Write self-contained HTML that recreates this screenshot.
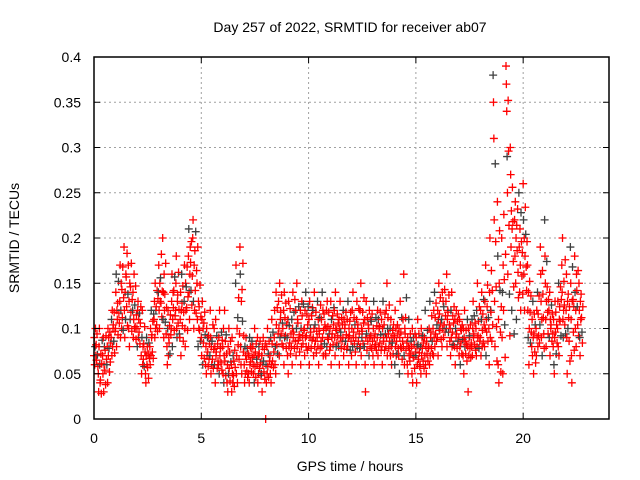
<!DOCTYPE html>
<html><head><meta charset="utf-8"><style>
body{margin:0;background:#fff}
svg{display:block;font-family:"Liberation Sans",sans-serif}
</style></head><body>
<svg id="chart" width="640" height="480">
<text x="350" y="32" text-anchor="middle" font-size="14">Day 257 of 2022, SRMTID for receiver ab07</text>
<g id="grid"></g>
<g id="pts"></g>
<rect x="94" y="57" width="515" height="362" fill="none" stroke="#000" stroke-width="1.5"/>
<g id="ticks"></g>
<text x="350" y="471" text-anchor="middle" font-size="14">GPS time / hours</text>
<text transform="translate(19,238) rotate(-90)" text-anchor="middle" font-size="14">SRMTID / TECUs</text>
</svg>
<script>
const xTicks=[0,5,10,15,20];
const yTicks=[0,0.05,0.1,0.15,0.2,0.25,0.3,0.35,0.4];
const yTickLabels=["0","0.05","0.1","0.15","0.2","0.25","0.3","0.35","0.4"];
const hours=[0.0,0.2,0.4,0.6,0.8,1.0,1.2,1.4,1.6,1.8,2.0,2.2,2.4,2.6,2.8,3.0,3.2,3.4,3.6,3.8,4.0,4.2,4.4,4.6,4.8,5.0,5.2,5.4,5.6,5.8,6.0,6.2,6.4,6.6,6.8,7.0,7.2,7.4,7.6,7.8,8.0,8.2,8.4,8.6,8.8,9.0,9.2,9.4,9.6,9.8,10.0,10.2,10.4,10.6,10.8,11.0,11.2,11.4,11.6,11.8,12.0,12.2,12.4,12.6,12.8,13.0,13.2,13.4,13.6,13.8,14.0,14.2,14.4,14.6,14.8,15.0,15.2,15.4,15.6,15.8,16.0,16.2,16.4,16.6,16.8,17.0,17.2,17.4,17.6,17.8,18.0,18.2,18.4,18.6,18.8,19.0,19.2,19.4,19.6,19.8,20.0,20.2,20.4,20.6,20.8,21.0,21.2,21.4,21.6,21.8,22.0,22.2,22.4,22.6];
const srmtid=[
[.07,.09,.06,.08,.10,.07],[.05,.03,.08,.10,.06,.04],[.07,.05,.09,.03,.06,.08],[.06,.08,.04,.10,.07,.09],[.09,.11,.07,.12,.08,.10],
[.10,.14,.16,.08,.12,.11],[.13,.17,.09,.12,.15,.10],[.19,.12,.09,.14,.11,.16],[.17,.10,.13,.08,.15,.11],[.12,.14,.09,.11,.16,.10],
[.10,.08,.12,.13,.09,.11],[.07,.05,.09,.12,.06,.08],[.05,.04,.07,.09,.06,.08],[.08,.06,.10,.07,.12,.09],[.11,.13,.09,.15,.10,.12],
[.14,.17,.12,.10,.15,.13],[.20,.11,.14,.09,.16,.12],[.08,.06,.10,.12,.07,.09],[.10,.13,.16,.08,.11,.14],[.12,.15,.18,.10,.09,.13],
[.09,.11,.14,.07,.12,.16],[.13,.17,.10,.08,.15,.12],[.18,.21,.14,.11,.16,.19],[.20,.22,.13,.10,.17,.12],[.15,.11,.19,.08,.13,.10],
[.09,.07,.11,.13,.06,.10],[.06,.08,.05,.10,.07,.09],[.07,.12,.09,.05,.08,.06],[.10,.06,.08,.04,.11,.07],[.06,.09,.05,.12,.07,.08],
[.08,.05,.10,.04,.07,.12],[.04,.06,.03,.08,.05,.10],[.06,.03,.09,.05,.04,.07],[.15,.17,.05,.07,.10,.04],[.19,.16,.08,.06,.13,.05],
[.06,.04,.08,.05,.07,.09],[.05,.07,.04,.09,.06,.08],[.08,.06,.05,.07,.04,.10],[.06,.09,.04,.07,.05,.08],[.05,.07,.03,.08,.06,.09],
[.00,.06,.04,.08,.05,.10],[.07,.05,.09,.04,.06,.11],[.09,.12,.06,.08,.05,.14],[.13,.10,.07,.15,.09,.11],[.10,.08,.12,.06,.14,.09],
[.09,.07,.11,.05,.13,.08],[.08,.11,.06,.10,.14,.09],[.12,.07,.10,.15,.08,.11],[.09,.12,.06,.10,.08,.13],[.10,.07,.12,.09,.14,.08],
[.08,.11,.06,.13,.09,.10],[.12,.09,.07,.10,.14,.08],[.09,.13,.08,.11,.06,.10],[.11,.08,.14,.09,.12,.07],[.07,.10,.12,.08,.13,.09],
[.10,.08,.13,.06,.11,.09],[.12,.09,.07,.14,.10,.08],[.08,.11,.06,.10,.13,.09],[.09,.12,.07,.11,.08,.10],[.11,.08,.13,.09,.06,.10],
[.07,.10,.12,.08,.14,.09],[.09,.06,.11,.13,.08,.10],[.12,.08,.15,.07,.10,.09],[.08,.11,.06,.03,.09,.13],[.10,.07,.12,.09,.08,.11],
[.07,.10,.13,.06,.09,.08],[.09,.12,.07,.11,.08,.10],[.11,.08,.06,.10,.13,.09],[.08,.12,.09,.15,.07,.10],[.10,.07,.11,.08,.06,.09],
[.09,.06,.12,.08,.10,.07],[.07,.10,.05,.09,.13,.08],[.11,.08,.16,.07,.06,.10],[.06,.09,.05,.08,.11,.07],[.08,.05,.10,.04,.07,.09],
[.07,.09,.04,.08,.06,.11],[.06,.08,.05,.10,.07,.09],[.09,.07,.12,.06,.08,.05],[.08,.10,.06,.13,.07,.09],[.10,.07,.12,.09,.14,.08],
[.09,.12,.07,.11,.15,.10],[.11,.08,.14,.10,.13,.09],[.13,.10,.16,.08,.11,.12],[.10,.07,.12,.09,.14,.08],[.08,.11,.06,.10,.09,.12],
[.09,.07,.11,.08,.06,.10],[.07,.10,.05,.09,.12,.08],[.11,.08,.03,.10,.07,.09],[.08,.11,.07,.10,.13,.09],[.10,.07,.12,.08,.15,.09],
[.09,.12,.07,.11,.14,.08],[.08,.13,.10,.17,.07,.11],[.10,.06,.14,.20,.09,.12],[.38,.35,.31,.22,.13,.08],[.24,.18,.06,.11,.04,.15],
[.20,.09,.14,.05,.17,.12],[.39,.37,.34,.29,.25,.16],[.30,.27,.19,.23,.12,.21],[.22,.18,.24,.15,.20,.11],[.25,.19,.14,.21,.17,.12],
[.26,.22,.16,.20,.12,.18],[.17,.12,.09,.14,.06,.10],[.08,.11,.07,.13,.09,.05],[.10,.07,.12,.09,.14,.08],[.19,.16,.13,.09,.11,.07],
[.22,.18,.15,.11,.08,.13],[.12,.09,.14,.07,.11,.10],[.08,.11,.06,.05,.09,.13],[.10,.13,.08,.15,.07,.11],[.17,.14,.20,.11,.09,.12],
[.12,.16,.09,.05,.13,.10],[.19,.15,.11,.07,.04,.13],[.18,.14,.10,.12,.08,.16],[.15,.12,.09,.07,.13,.11]];
const srmtidMid=[
[.082,.065,.094,.071,.058],[.043,.072,.028,.061,.087],[.054,.076,.038,.092,.066],[.078,.052,.096,.063,.084],[.104,.086,.118,.073,.097],
[.128,.093,.152,.117,.106],[.143,.112,.168,.098,.134],[.157,.124,.183,.103,.138],[.146,.118,.172,.097,.132],[.126,.102,.147,.088,.115],
[.096,.117,.083,.106,.124],[.066,.083,.058,.102,.074],[.057,.072,.045,.084,.067],[.093,.074,.108,.067,.116],[.124,.104,.142,.097,.133],
[.156,.128,.182,.113,.141],[.138,.107,.172,.094,.123],[.084,.103,.072,.115,.093],[.123,.142,.098,.157,.114],[.137,.106,.162,.121,.094],
[.128,.103,.147,.086,.118],[.146,.123,.168,.098,.135],[.173,.142,.196,.126,.158],[.186,.142,.207,.117,.164],[.124,.098,.148,.086,.113],
[.084,.106,.067,.118,.093],[.074,.058,.092,.066,.083],[.086,.066,.104,.056,.077],[.074,.092,.056,.083,.064],[.078,.062,.096,.054,.087],
[.064,.086,.048,.093,.072],[.056,.074,.042,.086,.063],[.048,.064,.036,.076,.057],[.112,.082,.134,.066,.094],[.143,.108,.172,.074,.092],
[.066,.053,.078,.046,.072],[.063,.078,.052,.086,.068],[.058,.074,.046,.083,.066],[.072,.056,.086,.062,.048],[.064,.052,.077,.044,.083],
[.058,.072,.046,.086,.064],[.083,.064,.096,.057,.074],[.104,.082,.123,.072,.094],[.118,.094,.137,.083,.106],[.112,.092,.128,.078,.104],
[.103,.084,.122,.072,.094],[.096,.118,.078,.132,.086],[.106,.087,.124,.093,.074],[.114,.092,.083,.127,.098],[.092,.116,.076,.104,.124],
[.096,.078,.114,.087,.123],[.104,.086,.118,.073,.097],[.094,.112,.078,.126,.086],[.098,.116,.083,.104,.072],[.102,.088,.118,.094,.076],
[.094,.114,.082,.104,.123],[.098,.084,.116,.092,.106],[.096,.078,.112,.086,.104],[.104,.086,.118,.093,.077],[.092,.108,.076,.118,.086],
[.096,.112,.083,.104,.074],[.104,.086,.122,.094,.078],[.097,.118,.083,.106,.134],[.094,.076,.112,.086,.104],[.092,.108,.078,.116,.086],
[.094,.082,.112,.076,.103],[.102,.084,.118,.093,.076],[.086,.104,.076,.116,.094],[.112,.094,.078,.126,.086],[.084,.098,.072,.104,.092],
[.086,.072,.104,.094,.078],[.096,.078,.112,.066,.086],[.094,.112,.076,.134,.084],[.078,.064,.094,.072,.086],[.068,.082,.056,.094,.074],
[.082,.066,.094,.073,.058],[.078,.092,.064,.084,.056],[.086,.072,.098,.064,.078],[.096,.078,.114,.086,.072],[.112,.094,.128,.086,.104],
[.116,.098,.134,.106,.088],[.124,.104,.143,.096,.114],[.118,.096,.137,.104,.086],[.096,.114,.082,.106,.124],[.094,.078,.108,.086,.116],
[.084,.098,.072,.104,.088],[.086,.072,.098,.082,.064],[.092,.078,.104,.068,.084],[.094,.114,.082,.106,.076],[.092,.108,.078,.124,.086],
[.098,.116,.084,.132,.104],[.096,.124,.148,.086,.112],[.118,.164,.086,.142,.104],[.282,.196,.146,.102,.064],[.208,.142,.096,.052,.124],
[.226,.154,.104,.068,.182],[.352,.296,.214,.138,.092],[.256,.218,.174,.146,.094],[.214,.186,.232,.162,.134],[.228,.196,.158,.184,.138],
[.234,.204,.168,.142,.196],[.152,.118,.084,.136,.096],[.094,.116,.074,.104,.062],[.116,.092,.136,.084,.104],[.164,.138,.112,.094,.078],
[.174,.146,.118,.094,.132],[.104,.126,.086,.116,.094],[.096,.118,.072,.104,.084],[.124,.108,.146,.092,.132],[.152,.126,.104,.176,.094],
[.138,.112,.086,.124,.064],[.168,.132,.096,.124,.076],[.142,.124,.104,.164,.092],[.138,.112,.096,.084,.124]];
const NS="http://www.w3.org/2000/svg";
const X0=94,X1=609,Y0=419,Y1=57,XMAX=24,YMAX=0.4;
function sx(t){return X0+(t/XMAX)*(X1-X0);}
function sy(v){return Y0-(v/YMAX)*(Y0-Y1);}
function mk(tag,attrs,parent){const e=document.createElementNS(NS,tag);for(const k in attrs)e.setAttribute(k,attrs[k]);parent.appendChild(e);return e;}
const grid=document.getElementById('grid'),ticks=document.getElementById('ticks'),pts=document.getElementById('pts');
xTicks.forEach((t,i)=>{
  const x=sx(t);
  if(t>0){const g=mk('line',{x1:x,x2:x,y1:Y1,y2:Y0,stroke:'#a0a0a0','stroke-dasharray':'2,3'},grid);
  
  }
  const a=mk('line',{x1:x,x2:x,y1:Y0,y2:Y0-6,stroke:'#000'},ticks);
  
  
  const b=mk('line',{x1:x,x2:x,y1:Y1,y2:Y1+6,stroke:'#000'},ticks);
  
  
  const l=mk('text',{x:x,y:Y0+24,'text-anchor':'middle','font-size':14},ticks);
  l.textContent=String(t);
  
  
});
yTicks.forEach((v,i)=>{
  const y=sy(v);
  if(v>0&&v<YMAX){const g=mk('line',{x1:X0,x2:X1,y1:y,y2:y,stroke:'#a0a0a0','stroke-dasharray':'2,3'},grid);
  
  }
  const a=mk('line',{x1:X0,x2:X0+6,y1:y,y2:y,stroke:'#000'},ticks);
  
  
  const b=mk('line',{x1:X1,x2:X1-6,y1:y,y2:y,stroke:'#000'},ticks);
  
  
  const l=mk('text',{x:X0-13,y:y+5,'text-anchor':'end','font-size':14},ticks);
  l.textContent=yTickLabels[i];
  
  
});
let n=0;
function plus(t,v){
  const x=sx(t),y=sy(v);
  const col=(n%6===3)?'#404040':'#ff0000';
  const p=mk('path',{d:`M${x-4},${y}H${x+4}M${x},${y-4}V${y+4}`,stroke:col,'stroke-width':1.3,fill:'none'},pts);
  
  
  n++;
}
hours.forEach((t,i)=>{
  srmtid[i].forEach((v,j)=>plus(t+j*0.017,v));
  srmtidMid[i].forEach((v,j)=>plus(t+0.1+j*0.02,v));
});
</script>
</body></html>
